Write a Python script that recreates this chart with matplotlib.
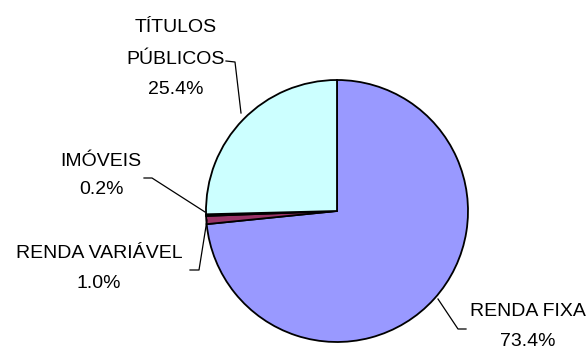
import matplotlib
matplotlib.use("Agg")
import matplotlib.pyplot as plt

categorias = ["RENDA FIXA", "RENDA VARIÁVEL", "IMÓVEIS", "TÍTULOS\nPÚBLICOS"]
valores = [73.4, 1.0, 0.2, 25.4]
cores = ["#9999FF", "#993366", "#2a0f22", "#CCFFFF"]

W, H = 587, 350
fig = plt.figure(figsize=(W / 100, H / 100), dpi=100)
ax = fig.add_axes([0, 0, 1, 1])

# centro e raio em pixels (y invertido)
cx, cy, r = 337, H - 211, 131
ax.pie(valores, colors=cores, startangle=90, counterclock=False,
       center=(cx, cy), radius=r, frame=True,
       wedgeprops=dict(edgecolor="black", linewidth=1.3))
ax.set_xlim(0, W)
ax.set_ylim(0, H)
ax.set_aspect("equal")
ax.axis("off")

fonte = dict(family="Liberation Sans", fontsize=14, color="black")

# rótulos: (x centro, y da primeira linha em px a partir do topo, passo)
rotulos = [
    (528, 312, 30),
    (99, 254, 30),
    (101, 161, 29),
    (176, 28, 31),
]
for (x, y, dy), cat, v in zip(rotulos, categorias, valores):
    linhas = cat.split("\n") + [f"{v:.1f}%"]
    for k, t in enumerate(linhas):
        ax.text(x, H - (y + dy * k), t, ha="center", va="center", **fonte)

# linhas de chamada
chamadas = [
    [(438, 299), (458, 329), (466, 329)],
    [(207, 220), (199, 270), (190, 270)],
    [(205, 212), (152, 178), (144, 178)],
    [(241, 113), (235, 62), (226, 61)],
]
for pts in chamadas:
    xs = [p[0] for p in pts]
    ys = [H - p[1] for p in pts]
    ax.plot(xs, ys, color="black", lw=0.9)

fig.savefig("out.png", dpi=100)
